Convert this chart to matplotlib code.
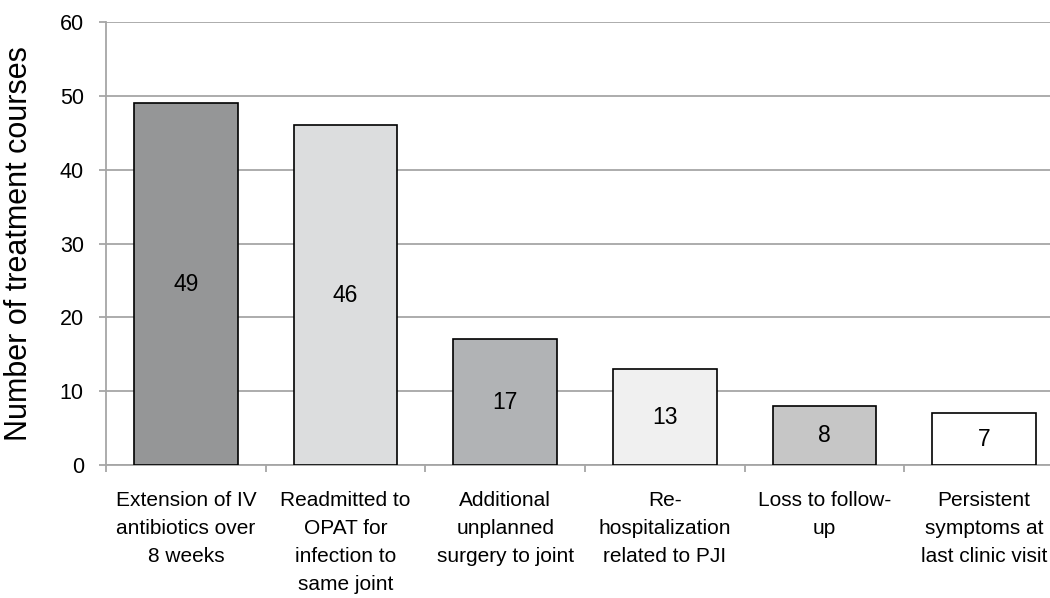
import numpy as np
import matplotlib.pyplot as plt
from matplotlib.ticker import FixedLocator, NullFormatter

plt.rcParams['font.family'] = ['Liberation Sans', 'DejaVu Sans']

categories = [
    "Extension of IV\nantibiotics over\n8 weeks",
    "Readmitted to\nOPAT for\ninfection to\nsame joint",
    "Additional\nunplanned\nsurgery to joint",
    "Re-\nhospitalization\nrelated to PJI",
    "Loss to follow-\nup",
    "Persistent\nsymptoms at\nlast clinic visit",
]
counts = [49, 46, 17, 13, 8, 7]
colors = ['#959697', '#DCDDDE', '#B1B3B5', '#F0F0F0', '#C6C6C6', '#FFFFFF']

fig = plt.figure(figsize=(10.5, 5.98), dpi=100)
ax = fig.add_axes([106/1050, 133/598, 958/1050, 443/598])

x = np.arange(len(counts))
ax.bar(x, counts, width=0.65, color=colors, edgecolor='black', linewidth=1.2, zorder=3)
for xi, v in zip(x, counts):
    ax.text(xi, v / 2, str(v), ha='center', va='center', fontsize=16.5, zorder=4)

ax.set_xlim(-0.5, len(counts) - 0.5)
ax.set_ylim(0, 60)
ax.set_yticks(np.arange(0, 61, 10))
ax.yaxis.grid(True, color='#A6A6A6', linewidth=1.3, zorder=0)
ax.tick_params(axis='y', labelsize=15.5, length=5, color='#A6A6A6', width=1.3, pad=11)

ax.set_xticks(x)
ax.set_xticklabels(categories, fontsize=15, linespacing=1.6, va='top')
ax.tick_params(axis='x', which='major', length=0, pad=19)
ax.xaxis.set_minor_locator(FixedLocator(np.arange(-0.5, len(counts), 1.0)))
ax.xaxis.set_minor_formatter(NullFormatter())
ax.tick_params(axis='x', which='minor', length=5, color='#A6A6A6', width=1.3)

for s in ['top', 'right']:
    ax.spines[s].set_visible(False)
for s in ['left', 'bottom']:
    ax.spines[s].set_color('#A6A6A6')
    ax.spines[s].set_linewidth(1.3)

ax.set_ylabel("Number of treatment courses", fontsize=22)
ax.yaxis.set_label_coords(-72/958, 0.5)

fig.savefig('out.png', dpi=100)
